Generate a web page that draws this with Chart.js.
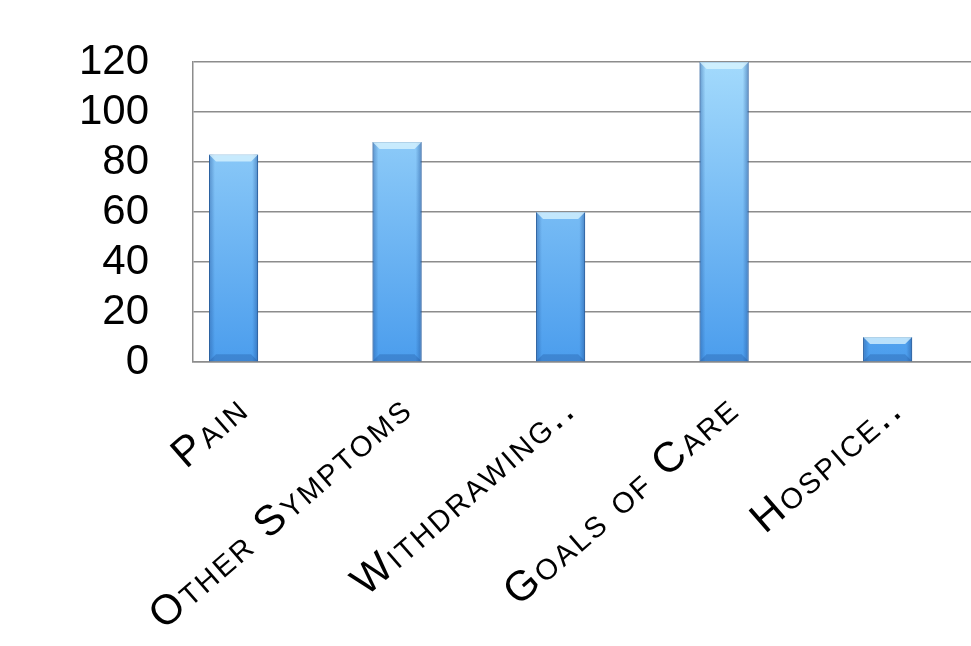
<!DOCTYPE html>
<html>
<head>
<meta charset="utf-8">
<script src="https://cdn.jsdelivr.net/npm/chart.js@4"></script>
<style>
  html, body { margin: 0; padding: 0; background: #fff; }
  #wrap { width: 971px; height: 646px; }
</style>
</head>
<body>
<div id="wrap"><canvas id="topics"></canvas></div>
<script>
  const categories = ['Pain', 'Other Symptoms', 'Withdrawing..', 'Goals of Care', 'Hospice..'];
  const counts = [83, 88, 60, 120, 10];
  const yTicks = [0, 20, 40, 60, 80, 100, 120];

  function barFill(ctx) {
    const area = ctx.chart.chartArea;
    if (!area) return '#6fb8f5';
    const g = ctx.chart.ctx.createLinearGradient(0, area.top, 0, area.bottom);
    g.addColorStop(0, '#a3dafc');
    g.addColorStop(1, '#4b9ded');
    return g;
  }

  // soft bevel on the bars, using the bar elements' own geometry
  const bevel = {
    id: 'bevel',
    afterDatasetsDraw(chart) {
      const c = chart.ctx;
      chart.getDatasetMeta(0).data.forEach(bar => {
        const { x, y, base, width } = bar.getProps(['x', 'y', 'base', 'width'], true);
        const l = x - width / 2, r = x + width / 2;
        const side = c.createLinearGradient(l, 0, r, 0);
        side.addColorStop(0, 'rgba(30,80,150,0.45)');
        side.addColorStop(0.12, 'rgba(30,80,150,0)');
        side.addColorStop(0.88, 'rgba(30,80,150,0)');
        side.addColorStop(1, 'rgba(30,80,150,0.5)');
        c.save();
        c.fillStyle = side;
        c.fillRect(l, y, width, base - y);
        const d = Math.min(7, (base - y) / 3);
        c.fillStyle = 'rgba(220,245,255,0.75)';
        c.beginPath();
        c.moveTo(l, y); c.lineTo(r, y); c.lineTo(r - d, y + d); c.lineTo(l + d, y + d); c.closePath();
        c.fill();
        c.fillStyle = 'rgba(30,80,150,0.3)';
        c.beginPath();
        c.moveTo(l, base); c.lineTo(r, base); c.lineTo(r - d, base - d); c.lineTo(l + d, base - d); c.closePath();
        c.fill();
        c.restore();
      });
    },
  };

  // a little extra tracking for the category labels only
  const tracking = {
    id: 'tracking',
    beforeDraw(chart) {
      const s = chart.scales.x;
      if (s._tracked) return;
      const orig = s.drawLabels;
      s.drawLabels = function (area) {
        this.ctx.save();
        this.ctx.letterSpacing = '2.5px';
        orig.call(this, area);
        this.ctx.restore();
      };
      s._tracked = true;
    },
  };

  const topicsCanvas = document.querySelector('#topics');
  const topicsChart = new Chart(topicsCanvas, {
    type: 'bar',
    data: {
      datasets: [{
        data: counts.map((v, i) => ({ x: i, y: v })),
        backgroundColor: barFill,
        borderColor: '#2f6aa6',
        borderWidth: 1,
        barPercentage: 0.3,
        categoryPercentage: 1,
      }],
    },
    options: {
      responsive: true,
      maintainAspectRatio: false,
      animation: false,
      layout: { padding: { top: 62, right: 0, left: 0, bottom: 0 } },
      plugins: { legend: { display: false }, tooltip: { enabled: false } },
      scales: {
        x: {
          type: 'linear',
          offset: false,
          min: -0.248,
          max: 4.51,
          afterBuildTicks: (scale) => { scale.ticks = categories.map((c, i) => ({ value: i })); },
          afterFit: (scale) => { scale.height = 284; },
          grid: { display: false },
          border: { display: true, color: '#8c8c8c', width: 1.5 },
          ticks: {
            autoSkip: false,
            minRotation: 41,
            maxRotation: 41,
            padding: 15,
            labelOffset: 10,
            color: '#000',
            font: { family: 'Liberation Sans', size: 42, weight: 'small-caps' },
            callback: (v) => categories[v],
          },
        },
        y: {
          min: 0,
          max: 120,
          afterBuildTicks: (scale) => { scale.ticks = yTicks.map(v => ({ value: v })); },
          afterFit: (scale) => { scale.width = 193; },
          grid: { color: '#8c8c8c', lineWidth: 1.5, tickLength: 40, tickColor: 'rgba(0,0,0,0)' },
          border: { display: true, color: '#8c8c8c', width: 1.5 },
          ticks: {
            autoSkip: false,
            padding: 4,
            color: '#000',
            font: { family: 'Liberation Sans', size: 42 },
          },
        },
      },
    },
    plugins: [bevel, tracking],
  });
</script>
</body>
</html>
